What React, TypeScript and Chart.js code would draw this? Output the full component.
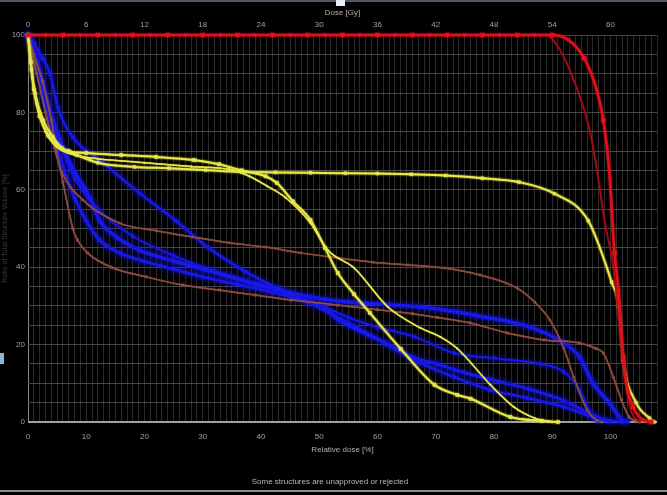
import React, { useEffect, useRef } from "react";
import { Chart, registerables } from "chart.js";

Chart.register(...registerables);

// ---- tick labels ----
const relDoseTicks = ["0", "10", "20", "30", "40", "50", "60", "70", "80", "90", "100"];
const doseTicks = ["0", "6", "12", "18", "24", "30", "36", "42", "48", "54", "60"];
const volumeTicks = ["0", "20", "40", "60", "80", "100"];

// ---- series (x: relative dose %, y: ratio of structure volume %) ----
const red1X = [0, 3, 6, 9, 12, 15, 18, 21, 24, 27, 30, 33, 36, 39, 42, 45, 48, 51, 54, 57, 60, 63, 66, 69, 72, 75, 78, 81, 84, 87, 90, 92.8, 95.5, 97.6, 98.8, 99.8, 100.7, 101.4, 102.2, 103, 103.9, 105.6, 107];
const red1Y = [100, 100, 100, 100, 100, 100, 100, 100, 100, 100, 100, 100, 100, 100, 100, 100, 100, 100, 100, 100, 100, 100, 100, 100, 100, 100, 100, 100, 100, 100, 100, 98.7, 94, 86, 78, 65, 43.7, 34, 16.8, 8, 3.9, 0.5, 0];

const red2X = [0, 89, 91, 93, 95, 96.5, 97.6, 99, 100.5, 101.5, 102.5, 103.5, 105];
const red2Y = [100, 100, 97, 91, 83, 75, 66, 52, 40, 26, 11, 3, 0];

const yel1X = [0, 0.6, 1.2, 2.6, 4.3, 5.8, 8.4, 12, 18.3, 24.2, 30.5, 36.7, 42.5, 48.5, 54.5, 60, 65.8, 71.7, 78, 84.3, 90.4, 96.2, 100.2, 101.4, 102.2, 104.4, 106.7, 107.5];
const yel1Y = [100, 91, 85, 78, 73.6, 70.8, 69, 67, 65.9, 65.6, 65.1, 64.6, 64.5, 64.4, 64.3, 64.2, 64, 63.7, 63, 62, 59, 52, 36.2, 30, 16, 5, 1, 0];

const yelAX = [0, 0.5, 1, 2, 3.5, 5, 7, 10, 16, 22, 28.5, 32.8, 36.7, 40.8, 42.7, 45.5, 48.5, 51, 53.2, 56, 58.7, 64, 69.8, 73.7, 76, 82.8, 88.2, 91];
const yelAY = [100, 93, 86, 79, 74, 71.5, 70, 69.5, 69, 68.5, 67.7, 66.6, 65, 63.5, 61.8, 57, 52.2, 45, 38.5, 33, 28.2, 18.9, 9.6, 7, 6, 1.3, 0.3, 0];

const yelBX = [0, 0.5, 1.5, 3, 5, 8, 12, 20, 28, 34.5, 38, 41, 44.2, 48.5, 51.5, 56, 61.8, 67.4, 70.8, 73.7, 79.4, 83.4, 87, 90];
const yelBY = [100, 92, 82, 75, 71, 69, 68, 67, 66, 65.3, 63.5, 61, 58, 51.4, 44.4, 39.8, 29.7, 24.3, 22, 19, 9.6, 3.9, 1, 0];

const brownUX = [0, 1.5, 3, 4.5, 5.8, 9.4, 15.7, 22, 28.2, 34.5, 40.8, 46.8, 53.2, 59.2, 65.2, 71.5, 77.6, 84, 87, 89.6, 92, 93.7, 96, 97.6, 98.5];
const brownUY = [100, 90, 80, 71, 64.6, 57.4, 51.4, 49.4, 47.8, 46.3, 45.2, 43.7, 42.4, 41.3, 40.6, 39.8, 38, 34.6, 31, 26.4, 19, 11.6, 3.1, 0.5, 0];

const brownLX = [0, 1, 2.5, 4, 4.9, 6, 7.7, 8.5, 10.2, 14.3, 20.3, 26.5, 32.8, 39, 45.2, 53.2, 60, 66, 70.3, 75.9, 82.3, 88.6, 94.7, 97.5, 98.8, 100.5, 101.9, 103.2, 104.4, 105];
const brownLY = [100, 95, 88, 78, 70, 62, 50, 47, 43.7, 40, 37.5, 35.4, 34.1, 32.8, 31.5, 30.2, 29, 28, 27, 25.6, 23, 21.2, 20.4, 19, 17.8, 11.6, 5.7, 1.3, 0.3, 0];

const blue1X = [0, 1, 2.5, 3.8, 5.1, 7.7, 12.3, 19.1, 25.4, 31, 37.4, 43, 48, 55, 61.3, 67.4, 73.2, 79.4, 85.7, 92, 97.6, 102];
const blue1Y = [100, 98, 94, 90, 81.4, 73.6, 67.7, 59.2, 52, 45, 38.8, 34.5, 31, 25.6, 20.4, 15.2, 11.6, 8.3, 6.2, 3.9, 1, 0];

const blue2X = [0, 1, 2.5, 4.3, 7.2, 10.6, 12.3, 15, 19.1, 25, 30.5, 39.6, 48.6, 55, 62, 67.4, 73.7, 76.6, 86.2, 92, 94.7, 97, 99.8, 102, 103];
const blue2Y = [100, 96, 88, 78, 67, 58, 52, 48, 44.4, 41.6, 39.3, 35.4, 32.3, 31, 30.3, 29.7, 28.4, 27.6, 24.5, 20.4, 16.8, 10, 5, 0.5, 0];

const blue3X = [0, 1, 2.5, 4, 6, 8, 10, 12.3, 16, 20, 25, 30, 36, 42, 48, 51, 53.2, 57, 61.3, 66.4, 70.3, 73.2, 79.4, 86, 92, 96, 99, 100];
const blue3Y = [100, 95, 85, 76, 66, 58, 52, 47, 43.5, 41.5, 39.5, 37.5, 35.5, 33.5, 31.2, 29.7, 26.4, 23.5, 20.4, 16.5, 15, 13.5, 11, 8.5, 5.5, 2.5, 0.5, 0];

const blue4X = [0, 1.5, 3, 5, 8, 12, 18, 25, 32, 40, 46, 51, 55, 60, 66.4, 73.2, 80, 88, 92, 94.7, 97, 98];
const blue4Y = [100, 93, 84, 74, 63, 55, 48, 43, 39, 35.5, 32.5, 29.7, 27, 24.5, 22, 17.8, 16.5, 15, 13, 8.3, 1.3, 0];

const toPts = (xs: number[], ys: number[]) => xs.map((x, i) => ({ x, y: ys[i] }));

const FONT = "'Liberation Sans', 'DejaVu Sans', sans-serif";
const RED = "#e0101c";
const RED_DARK = "#a80c16";
const YELLOW = "#e8e84a";
const BROWN = "#8c4c3e";
const BLUE = "#1818e8";

const glowPlugin = {
  id: "glow",
  beforeDatasetDraw(chart: any, args: any) {
    const ds: any = chart.data.datasets[args.index];
    const c = chart.ctx;
    c.save();
    c.shadowColor = ds.borderColor;
    c.shadowBlur = ds.glow || 0;
  },
  afterDatasetDraw(chart: any) {
    chart.ctx.restore();
  },
};

function line(label: string, xs: number[], ys: number[], color: string, width: number, radius: number, style: string, glow: number): any {
  return {
    label,
    data: toPts(xs, ys),
    borderColor: color,
    backgroundColor: color,
    borderWidth: width,
    pointRadius: radius,
    pointStyle: style,
    pointBorderWidth: 0,
    cubicInterpolationMode: "monotone",
    fill: false,
    clip: 6,
    glow,
  };
}

export default function App() {
  const ref = useRef<HTMLCanvasElement>(null);

  useEffect(() => {
    document.body.style.margin = "0";
    document.body.style.background = "#000";
    const canvas = ref.current;
    if (!canvas) return;

    const red1 = line("Red 1", red1X, red1Y, RED, 2.5, 2.5, "rect", 2);
    red1.pointRadius = (ctx: any) => (ctx.dataIndex % 2 === 0 ? 3 : 2);

    const chart = new Chart(canvas, {
      type: "line",
      data: {
        datasets: [
          red1,
          line("Red 2", red2X, red2Y, RED_DARK, 1.5, 0, "rect", 1),
          line("Yellow 1", yel1X, yel1Y, YELLOW, 2, 2.2, "rect", 2),
          line("Yellow A", yelAX, yelAY, YELLOW, 2, 2.5, "rect", 2),
          line("Yellow B", yelBX, yelBY, YELLOW, 1.5, 1.2, "rect", 1),
          line("Brown U", brownUX, brownUY, BROWN, 1.5, 1.6, "rect", 1),
          line("Brown L", brownLX, brownLY, BROWN, 1.5, 1.8, "rect", 1),
          line("Blue 1", blue1X, blue1Y, BLUE, 2.5, 2, "circle", 4),
          line("Blue 2", blue2X, blue2Y, BLUE, 3.5, 2, "circle", 5),
          line("Blue 3", blue3X, blue3Y, BLUE, 3, 2, "circle", 5),
          line("Blue 4", blue4X, blue4Y, BLUE, 2, 1.8, "circle", 4),
        ],
      },
      options: {
        animation: false,
        responsive: false,
        maintainAspectRatio: false,
        events: [],
        layout: { padding: { left: 0, right: 7, top: 0, bottom: 0 } },
        plugins: {
          legend: { display: false },
          tooltip: { enabled: false },
          title: {
            display: true,
            position: "bottom",
            text: "Some structures are unapproved or rejected",
            color: "#b8b8b8",
            font: { family: FONT, size: 8, weight: "normal" },
            padding: { top: 0, bottom: 8 },
          },
        },
        scales: {
          x: {
            type: "linear",
            position: "bottom",
            min: 0,
            max: 108,
            border: { display: false },
            grid: {
              drawTicks: false,
              color: (ctx: any) => (ctx.tick && ctx.tick.value === 0 ? "#8a8a8a" : "#2a2a2a"),
              lineWidth: 1,
            },
            ticks: {
              stepSize: 1,
              autoSkip: false,
              maxRotation: 0,
              maxTicksLimit: 1000,
              padding: 10,
              color: "#a0a0a0",
              font: { family: FONT, size: 8 },
              callback: (v: any) => (v % 10 === 0 && v <= 100 ? relDoseTicks[v / 10] : ""),
            },
            title: {
              display: true,
              text: "Relative dose [%]",
              color: "#b0b0b0",
              font: { family: FONT, size: 8 },
              padding: { top: 0, bottom: 22.6 },
            },
            afterFit: (s: any) => {
              s.height = 55.4;
            },
          },
          x2: {
            type: "linear",
            position: "top",
            min: 0,
            max: 108,
            border: { display: false },
            grid: { display: false, drawTicks: false },
            ticks: {
              stepSize: 10,
              autoSkip: false,
              maxRotation: 0,
              maxTicksLimit: 100,
              padding: 5,
              color: "#a0a0a0",
              font: { family: FONT, size: 8 },
              callback: (v: any) => (v % 10 === 0 && v <= 100 ? doseTicks[v / 10] : ""),
            },
            title: {
              display: true,
              text: "Dose [Gy]",
              color: "#b0b0b0",
              font: { family: FONT, size: 8 },
              padding: { top: 8, bottom: 0 },
            },
            afterFit: (s: any) => {
              s.height = 35;
            },
          },
          y: {
            type: "linear",
            min: 0,
            max: 100,
            border: { display: false },
            grid: {
              drawTicks: false,
              color: (ctx: any) => (ctx.tick && ctx.tick.value === 0 ? "#a0a0a0" : "#464646"),
              lineWidth: (ctx: any) => (ctx.tick && ctx.tick.value === 0 ? 2 : 1),
            },
            ticks: {
              stepSize: 5,
              autoSkip: false,
              maxTicksLimit: 100,
              padding: 3,
              color: "#a0a0a0",
              font: { family: FONT, size: 8 },
              callback: (v: any) => (v % 20 === 0 ? volumeTicks[v / 20] : ""),
            },
            title: {
              display: true,
              text: "Ratio of Total Structure Volume [%]",
              color: "#3a3a3a",
              font: { family: FONT, size: 7 },
              padding: { top: 1, bottom: 0 },
            },
            afterFit: (s: any) => {
              s.width = 28;
            },
          },
        },
      } as any,
      plugins: [glowPlugin],
    });

    return () => chart.destroy();
  }, []);

  return (
    <div style={{ position: "relative", width: 667, height: 495, background: "#000", overflow: "hidden" }}>
      <canvas ref={ref} width={667} height={495} style={{ display: "block", width: 667, height: 495 }} />
      <div style={{ position: "absolute", left: 0, top: 0, width: 667, height: 2, background: "#4d5a66" }} />
      <div style={{ position: "absolute", left: 336, top: 0, width: 9, height: 6, background: "#e6edf4" }} />
      <div style={{ position: "absolute", left: 0, top: 490, width: 667, height: 2, background: "#8a8a8a" }} />
      <div style={{ position: "absolute", left: 0, top: 353, width: 4, height: 11, background: "#8fb4d8" }} />
    </div>
  );
}
